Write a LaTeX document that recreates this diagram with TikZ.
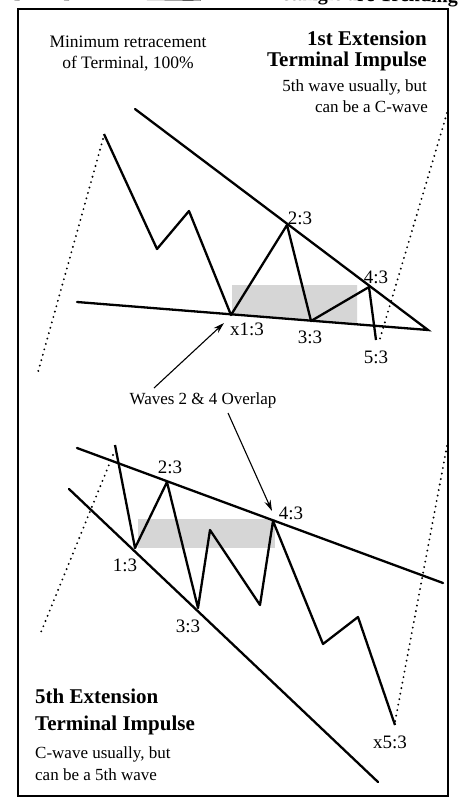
\documentclass[tikz,border=0pt]{standalone}
\usepackage{fontspec}
\setmainfont{Liberation Serif}
\usetikzlibrary{arrows.meta}
\tikzset{
  wave/.style={line width=2.3pt, line join=round},
  trend/.style={line width=2.3pt, line cap=round},
  dotline/.style={line width=2.1pt, line cap=round, dash pattern=on 0pt off 5.6pt},
  pointer/.style={line width=1.1pt, -{Stealth[length=11pt,width=6.5pt]}},
  frame/.style={line width=2pt},
  shade/.style={fill=black!16},
  lbl/.style={font=\fontsize{19}{22}\selectfont, inner sep=0pt, anchor=base},
  txt/.style={font=\fontsize{17.5}{21}\selectfont, inner sep=0pt},
  small/.style={font=\fontsize{17}{20}\selectfont, inner sep=0pt},
  ttl/.style={font=\bfseries\fontsize{21}{25}\selectfont, inner sep=0pt},
}
\begin{document}
\begin{tikzpicture}[x=1pt,y=-1pt]
\useasboundingbox (0,0) rectangle (461,798);
\fill[white] (0,0) rectangle (461,798);

% heading above the frame, cut off at the top edge as in the reference
\begin{scope}
\clip (0,0) rectangle (461,8.5);
\node[anchor=base east, inner sep=0pt, rotate=-0.8, font=\bfseries\fontsize{20}{24}\selectfont] (head) at (458,2.5) {Impulse patterns \underline{outside} of this rectangle are Trending};
\end{scope}

% frame
\draw[frame] (18,9) rectangle (448,796);

% ---------- top panel ----------
\coordinate (tA) at (135,109);
\coordinate (tB) at (428,330);
\coordinate (tC) at (77,302);
\coordinate (w0) at (104,134);
\coordinate (w1) at (157,249);
\coordinate (w2) at (189,211);
\coordinate (x13) at (231,315);
\coordinate (p23) at (287,225);
\coordinate (p33) at (311,321);
\coordinate (p43) at (369,287);
\coordinate (p53) at (376,340);

\fill[shade] (232,285) -- (357,285) -- (357,324) -- (232,314.5) -- cycle;

\coordinate (d1a) at (103,139);
\coordinate (d1b) at (38,372);
\coordinate (d2a) at (447,113);
\coordinate (d2b) at (379,342);
\draw[dotline] (d1a) -- (d1b);
\draw[dotline] (d2a) -- (d2b);

\draw[trend] (tA) -- (tB) -- (tC);
\draw[wave] (w0) -- (w1) -- (w2) -- (x13) -- (p23) -- (p33) -- (p43) -- (p53);

\node[lbl] (l23) at (300,224) {2:3};
\node[lbl] (l43) at (376,283) {4:3};
\node[lbl] (lx13) at (247,335) {x1:3};
\node[lbl] (l33) at (310,343) {3:3};
\node[lbl] (l53) at (376,363) {5:3};

% ---------- texts ----------
\node[txt, anchor=base] (m1) at (128,47) {Minimum retracement};
\node[txt, anchor=base] (m2) at (128,68) {of Terminal, 100\%};
\node[ttl, anchor=base east] (t1) at (427,45) {1st Extension};
\node[ttl, anchor=base east] (t2) at (427,66) {Terminal Impulse};
\node[small, anchor=base east] (t3) at (427,91) {5th wave usually, but};
\node[small, anchor=base east] (t4) at (428,112) {can be a C-wave};

\node[small, anchor=base] (ov) at (203,404) {Waves 2 \& 4 Overlap};
\coordinate (a1s) at (154,388);
\coordinate (a1e) at (224,323);
\coordinate (a2s) at (228,413);
\coordinate (a2e) at (272,511);
\draw[pointer] (a1s) -- (a1e);
\draw[pointer] (a2s) -- (a2e);

% ---------- bottom panel ----------
\coordinate (bA) at (77,448);
\coordinate (bB) at (443,583);
\coordinate (bC) at (69,489);
\coordinate (bD) at (378,782);
\coordinate (v0) at (115,445);
\coordinate (q13) at (135,548);
\coordinate (q23) at (167,482);
\coordinate (q33) at (198,608);
\coordinate (v4) at (210,530);
\coordinate (v5) at (260,605);
\coordinate (q43) at (273,521);
\coordinate (v7) at (323,644);
\coordinate (v8) at (358,617);
\coordinate (qx53) at (395,725);

\fill[shade] (138,519) rectangle (275,548);

\coordinate (d3a) at (113,455);
\coordinate (d3b) at (41,632);
\coordinate (d4a) at (447,446);
\coordinate (d4b) at (395,722);
\draw[dotline] (d3a) -- (d3b);
\draw[dotline] (d4a) -- (d4b);

\draw[trend] (bA) -- (bB);
\draw[trend] (bC) -- (bD);
\draw[wave] (v0) -- (q13) -- (q23) -- (q33) -- (v4) -- (v5) -- (q43) -- (v7) -- (v8) -- (qx53);

\node[lbl] (b23) at (170,473) {2:3};
\node[lbl] (b13) at (125,571) {1:3};
\node[lbl] (b43) at (291,519) {4:3};
\node[lbl] (b33) at (188,632) {3:3};
\node[lbl] (bx53) at (390,748) {x5:3};

\node[ttl, anchor=base west] (s1) at (35,703) {5th Extension};
\node[ttl, anchor=base west] (s2) at (35,730) {Terminal Impulse};
\node[small, anchor=base west] (s3) at (35,758) {C-wave usually, but};
\node[small, anchor=base west] (s4) at (35,780) {can be a 5th wave};
\end{tikzpicture}
\end{document}
